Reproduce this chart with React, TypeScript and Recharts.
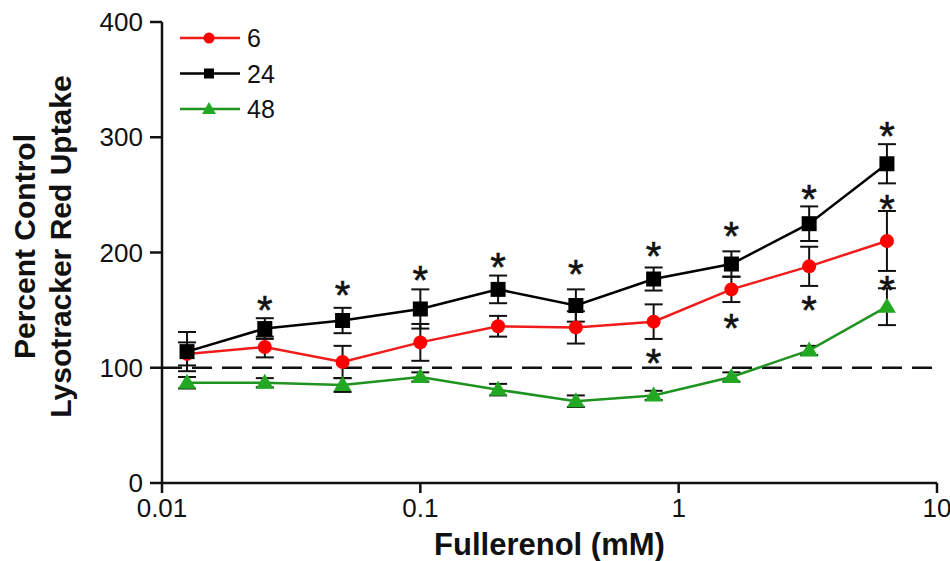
import React from "react";
import {
  ErrorBar,
  Legend,
  Line,
  LineChart,
  ReferenceLine,
  XAxis,
  YAxis,
} from "recharts";

// fullerenol dose (mM)
const doses = [0.0125, 0.025, 0.05, 0.1, 0.2, 0.4, 0.8, 1.6, 3.2, 6.4];

// percent control, mean and SEM per exposure time (h)
const mean6 = [112, 118, 105, 122, 136, 135, 140, 168, 188, 210];
const err6 = [10, 9, 14, 16, 9, 14, 15, 11, 17, 26];
const mean24 = [114, 134, 141, 151, 168, 154, 177, 190, 225, 277];
const err24 = [17, 9, 11, 17, 12, 14, 10, 11, 15, 17];
const mean48 = [87, 87, 85, 92, 81, 71, 76, 92, 115, 153];
const err48 = [5, 4, 6, 4, 5, 5, 4, 4, 4, 16];

// where the significance asterisks sit (same units as the y axis)
const stars24 = [null, 157, 170, 183, 194, 188, 204, 221, 253, 308];
const stars6 = [null, null, null, null, null, null, 111, 141, 157, 245];
const stars48 = [null, null, null, null, null, null, null, null, null, 174];

const xTicks = [0.01, 0.1, 1, 10];
const yTicks = [0, 100, 200, 300, 400];

const FONT = "'Liberation Sans', Arial, Helvetica, sans-serif";
const RED = "#f21b1b";
const GREEN = "#1f931f";
const GREEN_FILL = "#22a822";

const data = doses.map((d, i) => ({
  dose: d,
  h6: mean6[i],
  e6: err6[i],
  h24: mean24[i],
  e24: err24[i],
  h48: mean48[i],
  e48: err48[i],
  s6: stars6[i],
  s24: stars24[i],
  s48: stars48[i],
}));

const circleDot = (p: any) =>
  p.cy == null ? (
    <g key={p.index} />
  ) : (
    <circle key={p.index} cx={p.cx} cy={p.cy} r={7} fill="#ff0000" />
  );

const squareDot = (p: any) =>
  p.cy == null ? (
    <g key={p.index} />
  ) : (
    <rect key={p.index} x={p.cx - 7.5} y={p.cy - 7.5} width={15} height={15} fill="#000" />
  );

const triangleDot = (p: any) =>
  p.cy == null ? (
    <g key={p.index} />
  ) : (
    <polygon
      key={p.index}
      points={`${p.cx},${p.cy - 9} ${p.cx - 9},${p.cy + 6} ${p.cx + 9},${p.cy + 6}`}
      fill={GREEN_FILL}
    />
  );

const starDot = (p: any) =>
  p.cy == null || p.value == null ? (
    <g key={p.index} />
  ) : (
    <text
      key={p.index}
      x={p.cx}
      y={p.cy + 22}
      textAnchor="middle"
      fontSize={40}
      fontFamily={FONT}
      fill="#111"
      stroke="#111"
      strokeWidth={0.6}
    >
      *
    </text>
  );

const legendItems = [
  { label: "6", color: RED, shape: "circle" },
  { label: "24", color: "#000", shape: "square" },
  { label: "48", color: GREEN, shape: "triangle" },
];

function LegendBox() {
  return (
    <svg width={120} height={110}>
      {legendItems.map((it, i) => {
        const y = 16 + i * 35.5;
        return (
          <g key={it.label}>
            <line x1={2} x2={62} y1={y} y2={y} stroke={it.color} strokeWidth={2.5} />
            {it.shape === "circle" && <circle cx={31} cy={y} r={5.5} fill="#ff0000" />}
            {it.shape === "square" && <rect x={26} y={y - 5} width={10} height={10} fill="#000" />}
            {it.shape === "triangle" && (
              <polygon points={`31,${y - 7} 24,${y + 5} 38,${y + 5}`} fill={GREEN_FILL} />
            )}
            <text x={69} y={y + 9} fontSize={25} fontFamily={FONT} fill="#111">
              {it.label}
            </text>
          </g>
        );
      })}
    </svg>
  );
}

function YTitle(props: any) {
  const vb = props.viewBox || { y: 22, height: 461 };
  const cy = vb.y + vb.height / 2 - 6;
  return (
    <g fontFamily={FONT} fontWeight="bold" fontSize={30} fill="#111">
      <text transform={`translate(35, ${cy}) rotate(-90)`} textAnchor="middle">
        Percent Control
      </text>
      <text transform={`translate(71, ${cy}) rotate(-90)`} textAnchor="middle">
        Lysotracker Red Uptake
      </text>
    </g>
  );
}

export default function App() {
  const tickStyle = { fontSize: 26, fontFamily: FONT, fill: "#111" };
  return (
    <div style={{ position: "absolute", left: 0, top: 0, width: 950, height: 561, background: "#fff" }}>
      <LineChart
        width={950}
        height={561}
        data={data}
        margin={{ top: 22, right: 13, bottom: 0, left: 0 }}
      >
        <XAxis
          dataKey="dose"
          type="number"
          scale="log"
          domain={[0.01, 10]}
          ticks={xTicks}
          allowDataOverflow
          height={78}
          stroke="#111"
          strokeWidth={2.5}
          tickSize={10}
          tickMargin={6}
          tick={tickStyle}
          label={{
            value: "Fullerenol (mM)",
            position: "insideBottom",
            offset: 6,
            style: { fontSize: 31, fontWeight: "bold", fontFamily: FONT, fill: "#111" },
          }}
        />
        <YAxis
          type="number"
          domain={[0, 400]}
          ticks={yTicks}
          width={162}
          stroke="#111"
          strokeWidth={2.5}
          tickSize={12}
          tickMargin={7}
          tick={tickStyle}
          label={<YTitle />}
        />
        <ReferenceLine y={100} stroke="#111" strokeWidth={2.5} strokeDasharray="20 10" />
        <Line
          dataKey="h48"
          name="48"
          stroke={GREEN}
          strokeWidth={2.5}
          dot={triangleDot}
          isAnimationActive={false}
        >
          <ErrorBar dataKey="e48" width={9} stroke="#111" strokeWidth={2} direction="y" />
        </Line>
        <Line
          dataKey="h6"
          name="6"
          stroke={RED}
          strokeWidth={2.5}
          dot={circleDot}
          isAnimationActive={false}
        >
          <ErrorBar dataKey="e6" width={9} stroke="#111" strokeWidth={2} direction="y" />
        </Line>
        <Line
          dataKey="h24"
          name="24"
          stroke="#000"
          strokeWidth={2.5}
          dot={squareDot}
          isAnimationActive={false}
        >
          <ErrorBar dataKey="e24" width={9} stroke="#111" strokeWidth={2} direction="y" />
        </Line>
        <Line dataKey="s24" stroke="none" dot={starDot} legendType="none" isAnimationActive={false} />
        <Line dataKey="s6" stroke="none" dot={starDot} legendType="none" isAnimationActive={false} />
        <Line dataKey="s48" stroke="none" dot={starDot} legendType="none" isAnimationActive={false} />
        <Legend
          layout="vertical"
          align="center"
          verticalAlign="middle"
          content={() => <LegendBox />}
          wrapperStyle={{ left: 178, top: 22, width: 120, height: 110 }}
        />
      </LineChart>
    </div>
  );
}
